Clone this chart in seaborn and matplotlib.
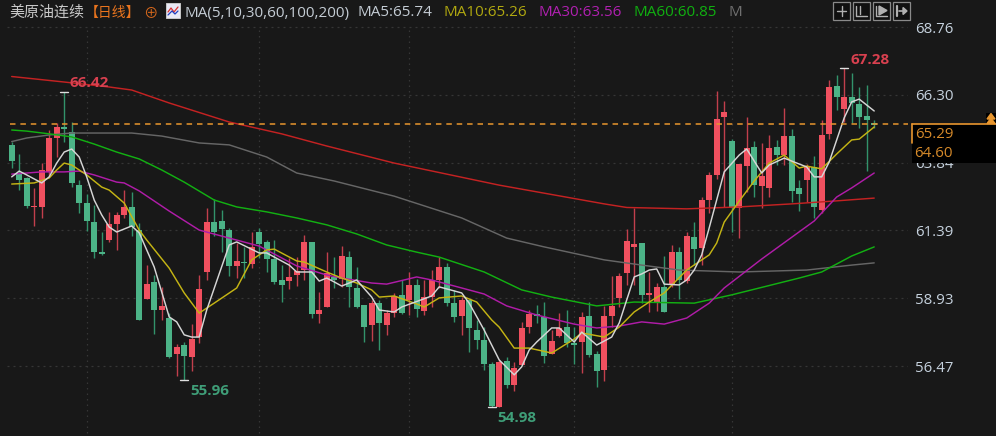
import numpy as np
import pandas as pd
import matplotlib
matplotlib.use("Agg")
import matplotlib.pyplot as plt
from matplotlib.patches import Rectangle, Polygon
from matplotlib.lines import Line2D
import seaborn as sns

# candle values: body top, body bottom, high, low, colour flag (1 = up/red, 0 = down/green)
up = [0,0,0,1,1,1,1,0,0,0,0,0,0,1,1,1,0,0,1,0,1,0,1,0,1,1,1,0,0,0,1,0,1,0,0,0,0,1,1,1,
      0,1,1,0,1,0,0,0,1,0,1,1,0,1,0,1,1,1,0,0,1,0,0,0,0,1,0,1,1,1,0,0,1,1,0,0,1,0,0,1,
      1,1,1,1,0,1,1,0,1,0,1,0,1,1,1,1,0,1,1,0,1,1,0,1,0,0,1,0,1,1,0,1,0,0,0,0]
body_top = [64.49,63.47,63.29,62.27,63.58,64.74,65.14,65.14,64.96,63.04,62.38,61.69,60.60,61.62,61.95,62.24,62.24,61.40,59.44,59.52,
            58.65,58.21,57.16,57.23,57.45,59.26,61.69,61.69,61.73,61.40,60.28,60.24,60.79,61.33,60.97,60.35,59.59,59.70,59.92,60.97,
            60.97,58.50,59.84,59.70,60.46,60.42,59.30,58.68,58.75,58.75,58.39,59.01,59.05,59.41,59.41,58.97,59.59,60.06,60.06,58.75,
            58.86,58.86,57.77,57.41,56.54,56.62,56.65,56.40,57.85,58.36,58.36,58.25,57.38,57.85,57.88,57.30,58.25,58.28,56.91,58.28,
            58.65,59.74,61.00,60.90,60.93,59.12,59.34,59.34,60.60,60.60,61.19,61.15,62.49,63.40,65.43,65.68,64.63,63.80,64.38,64.41,
            63.36,64.38,64.41,64.81,64.81,62.93,63.69,63.69,64.85,66.59,66.63,66.23,66.23,65.97,65.54,65.28]
body_bot = [63.91,63.22,62.27,62.24,62.24,63.51,64.74,65.08,63.11,62.38,61.73,60.60,60.55,61.04,61.62,61.95,61.51,58.14,58.90,58.50,
            58.50,56.80,56.91,56.83,56.80,57.52,59.88,61.33,61.44,60.10,60.10,60.21,60.17,60.90,60.35,59.52,59.41,59.55,59.77,59.95,
            58.36,58.36,58.61,59.59,59.63,59.34,58.61,57.88,57.96,58.03,57.96,58.39,58.39,58.86,58.54,58.46,58.97,59.59,58.75,58.25,
            58.28,57.85,57.41,56.54,55.02,54.98,55.78,55.78,56.51,57.88,58.28,56.83,56.91,57.56,57.30,57.23,57.34,56.87,56.29,56.32,
            58.28,58.93,59.84,60.79,59.05,59.05,58.75,58.43,59.44,59.59,59.55,60.71,60.75,62.49,63.40,65.50,62.20,62.20,63.72,63.04,
            63.00,62.93,64.12,64.12,62.82,62.71,63.22,62.24,62.13,64.89,66.23,65.79,66.01,65.50,65.39,65.21]
high = [64.60,64.16,63.33,62.93,63.83,65.03,65.28,66.42,65.32,63.22,62.71,62.31,61.33,62.06,62.06,62.85,62.78,61.66,60.13,59.77,
        59.34,58.39,57.27,57.34,58.00,59.77,62.20,62.53,62.13,61.48,60.93,60.79,61.33,61.48,61.04,61.04,60.13,60.39,60.42,61.22,
        60.97,59.15,60.60,60.42,60.82,60.64,60.06,58.68,58.86,58.86,58.50,59.12,59.59,59.88,59.63,59.59,59.95,60.42,60.21,59.23,
        58.97,58.86,58.14,57.88,56.62,56.69,56.80,56.62,58.07,58.50,58.68,58.79,57.77,58.39,58.50,57.88,58.43,58.79,57.02,58.65,
        59.74,59.84,61.44,62.20,60.93,59.88,59.48,60.46,60.86,60.79,61.33,61.69,62.60,63.51,66.44,66.08,64.70,63.80,65.50,64.63,
        64.56,64.85,64.67,65.83,65.07,63.22,63.80,64.09,65.39,66.84,67.01,67.28,67.10,66.59,66.66,65.39]
low = [63.65,62.85,62.20,61.55,61.84,63.33,64.05,64.60,62.96,62.02,61.37,60.39,60.50,60.97,60.68,61.84,61.19,58.14,58.90,57.63,
       58.14,56.76,56.11,55.96,56.29,57.30,59.59,61.19,60.60,59.74,59.66,59.66,60.02,60.39,59.88,59.44,58.79,59.26,59.37,59.59,
       58.21,58.03,58.61,59.30,59.34,58.61,58.57,57.34,57.38,57.05,57.60,58.25,58.36,58.32,58.25,58.32,58.61,59.30,58.65,58.07,
       57.60,56.98,57.09,56.32,54.98,54.98,55.67,55.56,56.51,57.67,58.03,56.58,56.91,57.52,57.16,56.54,56.22,56.80,55.71,55.93,
       57.88,58.61,59.41,59.41,58.75,58.43,58.46,58.43,59.34,58.90,59.48,60.13,60.13,62.02,63.25,62.24,61.33,61.11,62.78,62.60,
       62.20,62.60,63.76,63.76,62.42,62.09,62.42,61.84,62.02,64.70,65.76,65.32,65.28,65.10,63.54,65.10]

# moving averages, read at the session indexes listed beside them
ma200_i = [0,7,13,16,21,29,36,42,51,65,79,82,90,97,104,110,115]
ma200_v = [66.97,66.77,66.59,66.48,66.01,65.32,64.89,64.45,63.83,63.03,62.35,62.22,62.17,62.24,62.35,62.46,62.56]
ma100_i = [0,2,5,8,16,20,25,29,34,38,43,51,60,66,71,79,84,89,97,106,112,115]
ma100_v = [64.61,64.74,64.85,64.92,64.92,64.81,64.56,64.49,64.05,63.47,63.18,62.63,61.84,61.11,60.79,60.32,60.13,59.95,59.88,59.95,60.13,60.21]
ma60_i = [0,2,5,8,11,14,17,20,23,27,30,34,38,42,46,50,54,57,63,68,72,78,83,91,96,105,108,112,115]
ma60_v = [65.03,64.99,64.89,64.78,64.52,64.23,63.98,63.58,63.14,62.49,62.24,62.06,61.84,61.59,61.26,60.86,60.60,60.42,59.88,59.23,58.97,58.65,58.79,58.75,59.05,59.66,59.88,60.46,60.79]
ma30_i = [0,2,4,7,9,11,14,15,17,21,25,29,33,38,42,44,48,50,54,56,60,63,66,70,75,78,81,84,87,90,93,95,100,107,110,112,115]
ma30_v = [63.43,63.47,63.51,63.51,63.54,63.40,63.14,63.11,62.82,62.09,61.40,61.11,60.82,60.10,59.77,59.66,59.48,59.44,59.70,59.59,59.30,59.08,58.65,58.32,57.99,57.85,57.92,58.07,57.99,58.21,58.75,59.30,60.35,61.73,62.60,62.93,63.47]
ma10_i = [0,3,5,6,7,8,10,12,13,15,17,18,21,23,25,27,30,32,34,35,38,39,42,44,46,48,49,51,54,55,57,60,62,64,65,67,69,72,75,76,79,81,83,85,87,90,93,94,95,97,99,101,103,105,106,108,110,112,113,115]
ma10_v = [63.07,63.11,63.29,63.58,63.83,63.76,63.40,62.96,62.85,62.38,61.40,61.04,60.02,59.12,58.39,58.75,59.30,60.32,60.68,60.71,60.28,60.24,59.88,59.66,59.48,59.23,58.97,59.01,58.72,58.61,58.94,59.01,58.79,58.14,57.88,57.12,57.12,56.94,57.45,57.67,57.52,57.88,58.43,58.79,59.12,59.95,60.50,60.93,61.69,62.45,63.18,63.83,64.12,63.65,63.72,63.62,64.16,64.67,64.70,65.14]
ma5_i = [0,1,2,4,5,6,7,8,9,10,11,12,13,14,16,17,19,21,22,23,24,25,26,29,30,33,34,37,38,40,41,42,
         43,44,46,48,49,51,52,56,57,60,61,63,65,67,68,69,70,72,73,75,76,78,80,81,83,84,85,
         86,87,89,90,91,92,93,95,97,98,100,101,103,106,107,108,109,110,111,112,113,115]
ma5_v = [63.33,63.54,63.40,63.11,63.33,63.83,64.23,64.34,64.05,63.33,62.49,61.95,61.51,61.33,61.55,61.30,60.06,58.25,58.07,57.60,57.52,57.52,58.50,60.86,60.97,60.57,60.57,60.13,59.88,59.88,59.55,59.66,
         59.52,59.37,59.59,58.97,58.50,58.43,58.61,59.01,59.34,59.12,58.75,57.77,56.69,56.15,56.44,57.05,57.34,57.85,57.85,57.34,57.70,57.23,57.52,58.03,59.70,59.81,59.95,
         59.99,59.44,59.41,59.59,59.95,60.50,61.48,63.51,64.12,64.34,63.47,63.76,64.01,63.69,63.33,63.33,63.87,64.67,65.47,66.05,66.15,65.72]

y_ticks = [68.76, 66.30, 63.84, 61.39, 58.93, 56.47]
grid_sessions = [10, 33, 53, 75, 96]
last_line = 65.25
marks = [(7, "66.42", "#D8404F"), (111, "67.28", "#D8404F"), (23, "55.96", "#3F9E78"), (64, "54.98", "#3F9E78")]
legend_items = [("MA(5,10,30,60,100,200)", "#C4CCD4", 184), ("MA5:65.74", "#C4CCD4", 357), ("MA10:65.26", "#B0A810", 443),
                ("MA30:63.56", "#B020B0", 538), ("MA60:60.85", "#10B010", 633), ("M", "#707070", 728)]

BG = "#181818"
RED, GREEN = "#F0505F", "#4CB387"
RED_W, GREEN_W = "#C23F4C", "#32936B"
FONT = ["Open Sans", "Noto Sans CJK SC", "DejaVu Sans"]

sns.set_theme(style="dark", rc={"axes.facecolor": BG, "figure.facecolor": BG})
plt.rcParams["font.family"] = FONT

W, H = 996, 436
fig = plt.figure(figsize=(W / 100, H / 100), dpi=100)
ax = fig.add_axes([0, 0, 908 / W, 1])
ax.set_xlim(-1.56, (908 - 11.7) / 7.5)
ax.set_ylim(69.745 - 0.03627 * H, 69.745)
for s in ax.spines.values():
    s.set_visible(False)

ax.yaxis.tick_right()
ax.set_yticks(y_ticks)
ax.set_yticklabels([f"{v:.2f}" for v in y_ticks], color="#C6D2DE", fontsize=10.8)
ax.tick_params(axis="y", length=0, pad=5)
ax.set_xticks([])

ax.hlines(y_ticks, -0.6, 119.5, color="#363636", lw=0.9, linestyles=(0, (1.6, 3.2)), zorder=1)
ax.vlines(grid_sessions, 69.745 - 0.03627 * 433, 68.76, color="#363636", lw=0.9, linestyles=(0, (1.2, 3.2)), zorder=1)

idx = np.arange(len(up))
flag = np.array(up, dtype=bool)
top, bot, hi, lo = map(np.array, (body_top, body_bot, high, low))
ax.vlines(idx[flag], lo[flag], hi[flag], color=RED_W, lw=1.0, zorder=2)
ax.vlines(idx[~flag], lo[~flag], hi[~flag], color=GREEN_W, lw=1.0, zorder=2)
ax.bar(idx[flag], np.maximum(top - bot, 0.04)[flag], bottom=bot[flag], width=0.8, color=RED, linewidth=0, zorder=3)
ax.bar(idx[~flag], np.maximum(top - bot, 0.04)[~flag], bottom=bot[~flag], width=0.8, color=GREEN, linewidth=0, zorder=3)

series = [(ma200_i, ma200_v, "#C42222"), (ma100_i, ma100_v, "#666666"), (ma60_i, ma60_v, "#12B012"),
          (ma30_i, ma30_v, "#B01CA8"), (ma10_i, ma10_v, "#C4B414"), (ma5_i, ma5_v, "#D6D6D6")]
for i_, v_, c_ in series:
    df = pd.DataFrame({"session": i_, "price": v_})
    sns.lineplot(data=df, x="session", y="price", color=c_, lw=1.05, ax=ax, zorder=4, errorbar=None)
ax.set_xlabel("")
ax.set_ylabel("")
ax.set_xlim(-1.56, (908 - 11.7) / 7.5)

ax.hlines(last_line, -0.2, 119.5, color="#E8962E", lw=1.1, linestyles=(0, (3.6, 3.2)), zorder=5)

for i_, label, col in marks:
    if col == "#D8404F":
        yv = high[i_]
        ax.plot([i_ - 0.55, i_ + 0.55], [yv, yv], color="#E0E0E0", lw=1.0, zorder=6)
        ax.text(i_ + (0.65 if i_ == 7 else 0.85), yv + (0.32 if i_ == 7 else 0.29), label, color=col, fontsize=11,
                fontweight="bold", va="center", ha="left", zorder=7)
    else:
        yv = low[i_]
        ax.plot([i_ - 0.55, i_ + 0.55], [yv, yv], color="#E0E0E0", lw=1.0, zorder=6)
        ax.text(i_ + 0.75, yv - 0.4, label, color=col, fontsize=11, fontweight="bold", va="center", ha="left", zorder=7)


def fx(x):
    return x / W


def fy(y):
    return 1 - y / H


def ftext(x, y, s, color, **kw):
    fig.text(fx(x), fy(y), s, color=color, fontsize=kw.pop("fontsize", 11), va="center", ha="left", zorder=12, **kw)


def frect(x0, y0, x1, y1, **kw):
    fig.add_artist(Rectangle((fx(x0), fy(y1)), fx(x1 - x0), y1 / H - y0 / H, transform=fig.transFigure, **kw))


def fline(xs, ys, color, lw=1.0, z=12):
    fig.add_artist(Line2D([fx(x) for x in xs], [fy(y) for y in ys], transform=fig.transFigure, color=color, lw=lw, zorder=z))


# header
ftext(9, 13, "美原油连续", "#C8C8C8", fontsize=10.8)
ftext(85, 13, "【日线】", "#E8741E", fontsize=10)
ftext(143, 14, "⊕", "#D9691C", fontsize=10.5)
frect(166, 3, 180, 18, facecolor="#E8E8F4", edgecolor="#C8C8C8", lw=0.7, zorder=11)
fline([168, 171, 174, 178], [12, 8, 12, 7], "#D83030", 0.9)
fline([168, 172, 175, 178], [15, 11, 14, 11], "#2040C0", 0.9)
for txt, col, x in legend_items:
    ftext(x, 13, txt, col, fontsize=11)

# tool buttons
for x0 in (833, 853, 873, 893):
    frect(x0, 2.5, x0 + 17, 20, facecolor="#101010", edgecolor="#8A8A8A", lw=0.9, zorder=11)
fline([837, 846], [11, 11], "#B0B0B0", 1.0)
fline([841.5, 841.5], [6, 16], "#B0B0B0", 1.0)
fline([856, 856, 867], [6, 16, 16], "#B0B0B0", 1.0)
fline([860, 860], [6, 14], "#B0B0B0", 1.0)
fline([876, 876, 887], [6, 16, 16], "#B0B0B0", 1.0)
fig.add_artist(Polygon([(fx(879), fy(6)), (fx(879), fy(15)), (fx(887), fy(10.5))], transform=fig.transFigure, color="#B0B0B0", zorder=12))
fline([897, 897], [6, 16], "#B0B0B0", 1.6)
fline([899, 906], [11, 11], "#B0B0B0", 1.2)
fig.add_artist(Polygon([(fx(903), fy(7.5)), (fx(903), fy(14.5)), (fx(907), fy(11))], transform=fig.transFigure, color="#B0B0B0", zorder=12))

# price tags
frect(912, 124.5, W, 143.5, facecolor="#000000", edgecolor="none", zorder=10)
frect(912, 144.5, W, 163.5, facecolor="#000000", edgecolor="none", zorder=10)
fline([912, W], [124, 124], "#E8962E", 1.2)
fline([912, 912], [124, 143], "#E8962E", 1.2)
ftext(915, 134, "65.29", "#D68A2A", fontsize=10.8)
ftext(914, 153.5, "64.60", "#D68A2A", fontsize=10.8)
frect(986, 113, W, 123.5, facecolor="#000000", edgecolor="none", zorder=10)
for y0 in (113.5, 118):
    fig.add_artist(Polygon([(fx(987), fy(y0 + 5.5)), (fx(995), fy(y0 + 5.5)), (fx(991), fy(y0))], transform=fig.transFigure, color="#E8962E", zorder=12))

fig.savefig("out.png", dpi=100, facecolor=BG)
